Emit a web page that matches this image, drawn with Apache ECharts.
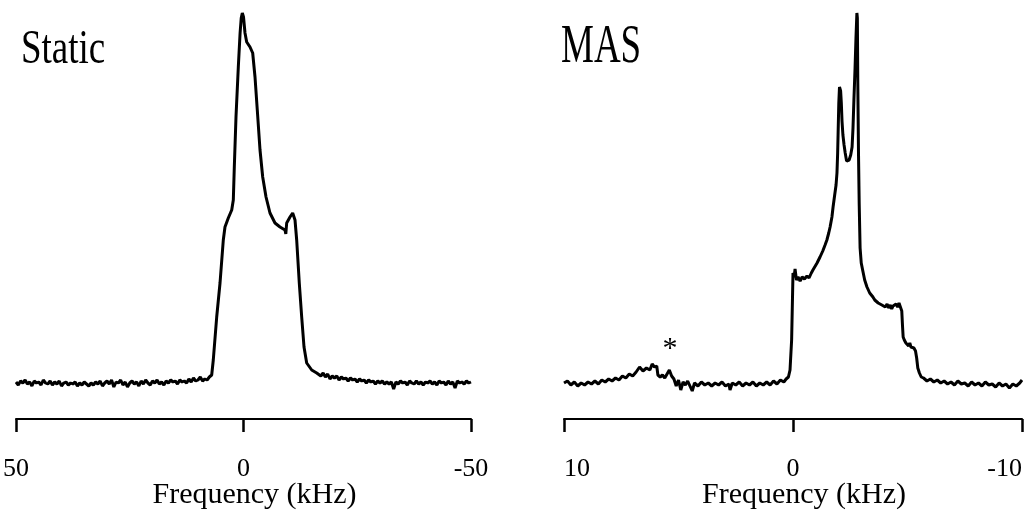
<!DOCTYPE html>
<html>
<head>
<meta charset="utf-8">
<script src="https://cdn.jsdelivr.net/npm/echarts@6/dist/echarts.min.js"></script>
<style>
html,body{margin:0;padding:0;background:#fff;}
#chart{width:1029px;height:511px;}
</style>
</head>
<body>
<div id="chart"></div>
<script>
// ---- Data (frequency in kHz, intensity in arbitrary units) ----
var panelTitles = ['Static', 'MAS'];
var axisTitle = 'Frequency (kHz)';
var staticRange = [-50, 50];
var staticTickStep = 50;
var masRange = [-10, 10];
var masTickStep = 10;
var asteriskMark = [5.37, 34];

var staticBaseLeft = [
[50,1],[49.5,-2],[49,2],[48.5,0],[48,3],[47.5,-1],[47,1],[46.5,-3],[46,2],[45.5,0],
[45,1],[44.5,-2],[44,3],[43.5,0],[43,-1],[42.5,2],[42,-2],[41.5,1],[41,-1],[40.5,2],
[40,-3],[39.5,0],[39,1],[38.5,-2],[38,0],[37.5,-1],[37,1],[36.5,-3],[36,0],[35.5,-2],
[35,1],[34.5,-1],[34,-3],[33.5,0],[33,-2],[32.5,1],[32,-1],[31.5,2],[31,-3],[30.5,0],
[30,2],[29.5,-1],[29,3],[28.5,-4],[28,1],[27.5,0],[27,3],[26.5,-2],[26,1],[25.5,-4],
[25,0],[24.5,2],[24,-1],[23.5,1],[23,-3],[22.5,2],[22,-1],[21.5,3],[21,0],[20.5,-2],
[20,2],[19.5,0],[19,3],[18.5,-1],[18,1],[17.5,-2],[17,2],[16.5,0],[16,3],[15.5,1],
[15,2],[14.5,-1],[14,3],[13.5,1],[13,2],[12.5,0],[12,4],[11.5,1],[11,5],[10.5,2],
[10,3],[9.5,6],[9,2],[8.5,4],[8,3],[7.5,6],[7.2,5]
];
var staticPeak = [
[6.99,8],[6.64,23],[5.89,66],[5.16,100],[4.44,143],[4.07,156],[3.34,165],[2.59,173],
[2.24,183],[2.02,216],[1.65,266],[1.14,316],[0.75,350],[0.5,365],[0.26,370],[0.0,366],
[-0.33,350],[-0.70,341],[-1.43,336],[-2.02,330],[-2.53,306],[-3.03,273],[-3.63,233],
[-4.22,206],[-4.95,186],[-5.82,170],[-6.92,160],[-8.02,156],[-9.12,153],[-9.3,149],
[-9.49,160],[-10.22,166],[-10.81,170],[-11.32,163],[-11.69,143],[-12.26,100],[-12.79,66],
[-13.30,36],[-13.89,20],[-14.99,13],[-16.09,10]
];
var staticBaseRight = [
[-16.5,9],[-17,7],[-17.5,10],[-18,6],[-18.5,9],[-19,4],[-19.5,7],[-20,5],[-20.5,7],[-21,3],
[-21.5,6],[-22,4],[-22.5,5],[-23,2],[-23.5,5],[-24,3],[-24.5,4],[-25,1],[-25.5,4],[-26,2],
[-26.5,3],[-27,0],[-27.5,3],[-28,1],[-28.5,2],[-29,-1],[-29.5,2],[-30,0],[-30.5,2],[-31,-1],
[-31.5,1],[-32,-1],[-32.5,1],[-33,-6],[-33.5,1],[-34,-1],[-34.5,2],[-35,0],[-35.5,1],[-36,-2],
[-36.5,2],[-37,0],[-37.5,-1],[-38,2],[-38.5,-1],[-39,1],[-39.5,-2],[-40,1],[-40.5,0],[-41,2],
[-41.5,-1],[-42,1],[-42.5,-2],[-43,2],[-43.5,0],[-44,1],[-44.5,-2],[-45,2],[-45.5,-1],[-46,1],
[-46.5,-5],[-47,2],[-47.5,0],[-48,1],[-48.5,-1],[-49,2],[-49.5,0],[-50,1]
];

var masHump = [
[10.0,0],[9.85,2],[9.7,-2],[9.55,1],[9.4,-3],[9.25,0],[9.1,-2],[8.95,1],[8.8,-1],[8.65,2],
[8.5,-1],[8.35,3],[8.2,1],[8.05,4],[7.9,2],[7.75,5],[7.6,3],[7.45,7],[7.3,5],[7.15,9],
[7.0,7],[6.85,11],[6.7,16],[6.55,12],[6.4,15],[6.25,13],[6.15,19],[6.05,16],[5.95,17],[5.9,8],
[5.8,6],[5.7,8],[5.6,5],[5.5,9],[5.4,13],[5.3,7],[5.2,4],[5.1,-3],[5.0,3],[4.9,-7],
[4.8,1],[4.7,-2],[4.6,2],[4.5,-3],[4.4,-8],[4.3,0],[4.15,-3],[4.0,1],[3.85,-2],[3.7,0],
[3.55,-3],[3.4,0],[3.25,-2],[3.1,1],[2.95,-3],[2.8,-1],[2.75,-7],[2.65,0],[2.5,-2],[2.35,1],
[2.2,-3],[2.05,0],[1.9,-2],[1.75,1],[1.6,-3],[1.45,0],[1.3,-2],[1.15,1],[1.0,-2],[0.85,2],
[0.7,-1],[0.55,3],[0.4,1],[0.3,4],[0.2,6],[0.13,13],[0.06,43]
];
var masPeak = [
[0.0,110],[-0.05,106],[-0.09,114],[-0.15,103],[-0.22,106],[-0.31,102],[-0.4,106],[-0.5,104],
[-0.61,107],[-0.7,105],[-0.8,110],[-0.87,113],[-0.95,114],[-1.05,120],[-1.18,126],[-1.3,132],
[-1.4,138],[-1.48,143],[-1.56,150],[-1.62,156],[-1.7,166],[-1.75,176],[-1.82,188],[-1.88,198],
[-1.92,210],[-1.95,230],[-1.97,250],[-2.0,280],[-2.03,296],[-2.05,298],[-2.08,292],[-2.11,280],
[-2.14,262],[-2.18,248],[-2.23,238],[-2.28,230],[-2.34,222],[-2.38,220],[-2.45,223],[-2.52,228],
[-2.58,236],[-2.62,255],[-2.66,283],[-2.71,315],[-2.75,345],[-2.79,370],[-2.81,365],[-2.83,300],
[-2.86,230],[-2.89,180],[-2.93,135],[-2.98,120],[-3.05,112],[-3.13,103],[-3.23,96],[-3.35,90],
[-3.49,86],[-3.57,83],[-3.65,85],[-3.72,80],[-3.8,82],[-3.88,78],[-3.95,80],[-4.03,76],
[-4.11,79],[-4.18,75],[-4.25,78],[-4.31,74],[-4.37,77],[-4.44,75],[-4.5,79],[-4.57,76],
[-4.63,80],[-4.7,78],[-4.75,72],[-4.78,58],[-4.81,46],[-4.86,43],[-4.93,40],[-5.0,42],
[-5.05,37],[-5.1,40],[-5.15,36],[-5.2,38],[-5.28,35],[-5.35,32],[-5.4,25],[-5.45,15],
[-5.52,10],[-5.6,6],[-5.7,5],[-5.85,2],[-6.0,4],[-6.15,1],[-6.3,3],[-6.45,0],
[-6.6,2],[-6.75,-1]
];
var masTail = [
[-6.9,1],[-7.05,-2],[-7.2,2],[-7.35,-1],[-7.5,0],[-7.65,-3],[-7.8,1],[-7.95,-2],[-8.1,0],[-8.25,-3],
[-8.4,1],[-8.55,-2],[-8.7,-1],[-8.85,-4],[-9.0,0],[-9.15,-3],[-9.3,-1],[-9.45,-5],[-9.6,-1],[-9.75,-3],
[-9.9,0],[-10.0,3]
];

var staticSpectrum = staticBaseLeft.concat(staticPeak, staticBaseRight);
var masSpectrum = masHump.concat(masPeak, masTail);

// ---- Chart ----
var serif = '"Liberation Serif", "Times New Roman", serif';
var chart = echarts.init(document.getElementById('chart'), null, {renderer: 'canvas'});

function makeXAxis(idx, range, step, extraLabel) {
  var lab = {
    color: '#000', fontFamily: serif, fontSize: 26, margin: 37
  };
  if (extraLabel) { for (var k in extraLabel) lab[k] = extraLabel[k]; }
  return {
    gridIndex: idx, type: 'value', min: range[0], max: range[1], interval: step,
    inverse: true,
    axisLine: {show: true, onZero: false, lineStyle: {color: '#000', width: 2}},
    axisTick: {show: true, inside: false, length: 13, lineStyle: {color: '#000', width: 2.5}},
    axisLabel: lab,
    splitLine: {show: false},
    name: axisTitle, nameLocation: 'middle', nameGap: 61, nameMoveOverlap: false,
    nameTextStyle: {color: '#000', fontFamily: serif, fontSize: 30, padding: [0, 0, 0, 22]}
  };
}
function makeYAxis(idx) {
  return {gridIndex: idx, type: 'value', min: -36, max: 380, show: false,
          splitLine: {show: false}};
}

var option = {
  backgroundColor: '#fff',
  animation: false,
  grid: [
    {left: 16, right: 558, top: 3, bottom: 92, containLabel: false, outerBoundsMode: 'none'},
    {left: 564, right: 7, top: 3, bottom: 92, containLabel: false, outerBoundsMode: 'none'}
  ],
  xAxis: [
    makeXAxis(0, staticRange, staticTickStep),
    makeXAxis(1, masRange, masTickStep, {alignMinLabel: 'right', alignMaxLabel: 'left'})
  ],
  yAxis: [makeYAxis(0), makeYAxis(1)],
  graphic: [
    {type: 'text', x: 21, y: 26, scaleY: 1.32, originX: 0, originY: 0,
     style: {text: panelTitles[0], font: '37px ' + serif, fill: '#000', textVerticalAlign: 'top', verticalAlign: 'top'}},
    {type: 'text', x: 561, y: 20, scaleY: 1.5, originX: 0, originY: 0,
     style: {text: panelTitles[1], font: '37px ' + serif, fill: '#000', textVerticalAlign: 'top', verticalAlign: 'top'}}
  ],
  series: [
    {type: 'line', xAxisIndex: 0, yAxisIndex: 0, data: staticSpectrum,
     showSymbol: false, symbol: 'none', lineStyle: {color: '#000', width: 3}, clip: false},
    {type: 'line', xAxisIndex: 1, yAxisIndex: 1, data: masSpectrum,
     showSymbol: false, symbol: 'none', lineStyle: {color: '#000', width: 3}, clip: false,
     markPoint: {
       symbol: 'circle', symbolSize: 1, itemStyle: {color: 'rgba(0,0,0,0)'},
       label: {show: true, position: 'inside', formatter: '*', color: '#000',
               fontFamily: serif, fontSize: 30},
       data: [{coord: asteriskMark}]
     }}
  ]
};
chart.setOption(option);
</script>
</body>
</html>
